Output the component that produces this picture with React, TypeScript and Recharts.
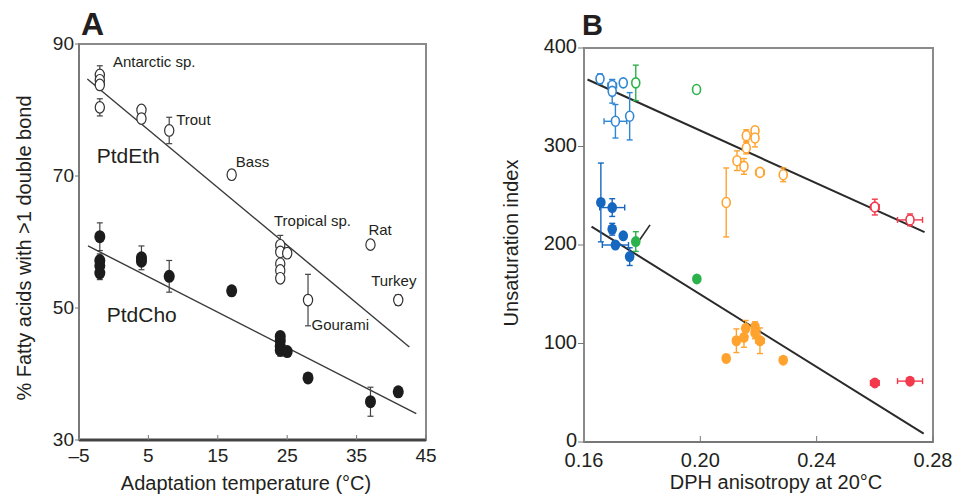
import React from "react";
import {
  ScatterChart,
  Scatter,
  XAxis,
  YAxis,
  ErrorBar,
  ReferenceLine,
  ReferenceArea,
} from "recharts";

// ---------- Panel A data: adaptation temperature (°C) vs % fatty acids ----------
const tempTicks = [-5, 5, 15, 25, 35, 45];
const pctTicks = [30, 50, 70, 90];

// PtdEth (open circles); ey = y error
const ethPoints = [
  { x: -2, y: 85.3, ey: 1.4 },
  { x: -2, y: 84.5 },
  { x: -2, y: 83.8 },
  { x: -2, y: 80.4, ey: 1.3 },
  { x: 4, y: 80.0 },
  { x: 4, y: 78.7 },
  { x: 8, y: 76.9, ey: 2.0 },
  { x: 17, y: 70.2, ey: 0.7 },
  { x: 24, y: 59.5, ey: 1.5 },
  { x: 24, y: 58.5 },
  { x: 25, y: 58.3 },
  { x: 24, y: 56.7 },
  { x: 24, y: 55.7 },
  { x: 24, y: 54.5 },
  { x: 28, y: 51.2, ey: 3.9 },
  { x: 37, y: 59.6, ey: 0.4 },
  { x: 41, y: 51.2, ey: 0.8 },
];

// PtdCho (filled circles)
const choPoints = [
  { x: -2, y: 60.8, ey: 2.1 },
  { x: -2, y: 57.2, ey: 1.0 },
  { x: -2, y: 56.4 },
  { x: -2, y: 55.3, ey: 1.0 },
  { x: 4, y: 57.6, ey: 1.8 },
  { x: 4, y: 57.1 },
  { x: 8, y: 54.8, ey: 2.4 },
  { x: 17, y: 52.6 },
  { x: 24, y: 45.7 },
  { x: 24, y: 45.0 },
  { x: 24, y: 44.2, ey: 1.5 },
  { x: 24, y: 43.6 },
  { x: 25, y: 43.4 },
  { x: 28, y: 39.4, ey: 0.5 },
  { x: 37, y: 35.8, ey: 2.2 },
  { x: 41, y: 37.3 },
];

const ethFit = [
  { x: -3.8, y: 84.7 },
  { x: 42.6, y: 44.1 },
];
const choFit = [
  { x: -3.7, y: 59.4 },
  { x: 43.6, y: 34.0 },
];

// label anchor = left end of text baseline
const speciesLabels = [
  { x: -0.1, y: 86.5, label: "Antarctic sp.", size: 15 },
  { x: 9.0, y: 77.7, label: "Trout", size: 15 },
  { x: 17.6, y: 71.4, label: "Bass", size: 15 },
  { x: 23.1, y: 62.4, label: "Tropical sp.", size: 15 },
  { x: 36.7, y: 61.0, label: "Rat", size: 15 },
  { x: 37.1, y: 53.3, label: "Turkey", size: 15 },
  { x: 28.5, y: 46.7, label: "Gourami", size: 15 },
  { x: -2.45, y: 71.9, label: "PtdEth", size: 21 },
  { x: -1.0, y: 47.9, label: "PtdCho", size: 21 },
];

// ---------- Panel B data: DPH anisotropy vs unsaturation index ----------
const anisoTicks = [0.16, 0.2, 0.24, 0.28];
const unsatTicks = [0, 100, 200, 300, 400];

const blueOpen = [
  { x: 0.1655, y: 368.7, ey: 5, ex: 0.001 },
  { x: 0.1697, y: 361.9, ey: 6, ex: 0.0015 },
  { x: 0.1697, y: 356, ey: 12 },
  { x: 0.1735, y: 364.6 },
  { x: 0.1708, y: 325.6, ey: 17, ex: 0.0039 },
  { x: 0.1757, y: 330.7, ey: 24 },
];
const greenOpen = [
  { x: 0.1778, y: 364.6, ey: 18 },
  { x: 0.1987, y: 357.8, ey: 2 },
];
const orangeOpen = [
  { x: 0.2089, y: 243.2, ey: 35 },
  { x: 0.2126, y: 285.6, ey: 10, ex: 0.001 },
  { x: 0.215, y: 279.8, ey: 8 },
  { x: 0.2158, y: 311, ey: 6 },
  { x: 0.2158, y: 298.5, ey: 6 },
  { x: 0.2188, y: 316, ey: 4 },
  { x: 0.2188, y: 308.6, ey: 9 },
  { x: 0.2205, y: 273.7, ey: 4, ex: 0.0015 },
  { x: 0.2285, y: 271.3, ey: 7 },
];
const redOpen = [
  { x: 0.26, y: 238.5, ey: 8, ex: 0.0015 },
  { x: 0.2721, y: 225.5, ey: 6, ex: 0.0043 },
];
const blueFilled = [
  { x: 0.1658, y: 243.2, ey: 40 },
  { x: 0.1697, y: 238, ey: 9, ex: 0.0043 },
  { x: 0.1697, y: 216, ey: 6 },
  { x: 0.1735, y: 209.3 },
  { x: 0.1708, y: 200, ex: 0.0045 },
  { x: 0.1757, y: 188.2, ey: 9 },
];
const greenFilled = [
  { x: 0.1778, y: 203.5, ey: 10 },
  { x: 0.1988, y: 165.5, ey: 2 },
];
const orangeFilled = [
  { x: 0.2089, y: 84.8, ey: 4 },
  { x: 0.2124, y: 102.8, ey: 12, ex: 0.001 },
  { x: 0.215, y: 106.2, ey: 10 },
  { x: 0.2156, y: 115.4, ey: 8 },
  { x: 0.2188, y: 117, ey: 5 },
  { x: 0.2188, y: 110.9, ey: 6 },
  { x: 0.2205, y: 102.8, ey: 13, ex: 0.0015 },
  { x: 0.2285, y: 83.1, ey: 2 },
];
const redFilled = [
  { x: 0.26, y: 60, ex: 0.0015 },
  { x: 0.2721, y: 61.8, ex: 0.0043 },
];

const upperFit = [
  { x: 0.1612, y: 368 },
  { x: 0.2771, y: 213 },
];
const lowerFit = [
  { x: 0.1626, y: 218.7 },
  { x: 0.2768, y: 8.5 },
];
const pointerLine = [
  { x: 0.1791, y: 205 },
  { x: 0.1827, y: 220.4 },
];

const FONT = "'Liberation Sans', Arial, Helvetica, sans-serif";
const INK = "#231f20";

const BLUE = "#2f86d3";
const BLUE_DARK = "#1667c0";
const GREEN = "#2bb24a";
const ORANGE = "#ffa22e";
const RED = "#f23a4c";

const withErr = (rows: any[]) =>
  rows.map((r) => ({ ...r, ey: r.ey ?? 0, ex: r.ex ?? 0 }));

const openBlack = (p: any) => (
  <ellipse cx={p.cx} cy={p.cy} rx={4.6} ry={5.8} fill="#fff" stroke="#333" strokeWidth={1.2} />
);
const filledBlack = (p: any) => (
  <ellipse cx={p.cx} cy={p.cy} rx={5.5} ry={6.5} fill="#1c1c1c" />
);
const openColor = (color: string) => (p: any) => (
  <ellipse cx={p.cx} cy={p.cy} rx={4} ry={5} fill="#fff" stroke={color} strokeWidth={1.6} />
);
const filledColor = (color: string) => (p: any) => (
  <ellipse cx={p.cx} cy={p.cy} rx={4.8} ry={5.5} fill={color} />
);
const labelShape = (p: any) => (
  <text x={p.cx} y={p.cy} fontSize={p.payload.size} fontFamily={FONT} fill={INK}>
    {p.payload.label}
  </text>
);

const fmtTemp = (v: number) => (v < 0 ? `\u2013${Math.abs(v)}` : `${v}`);
const fmtAniso = (v: number) => v.toFixed(2);
const fmtPlain = (v: number) => `${v}`;

// custom tick texts so the offsets can be tuned
const xTick = (fmt: (v: number) => string, size: number) => (p: any) => (
  <text
    x={p.x}
    y={p.y}
    dy="0.72em"
    textAnchor="middle"
    fontSize={size}
    fontFamily={FONT}
    fill={INK}
  >
    {fmt(p.payload.value)}
  </text>
);
const yTick = (size: number, shift: number) => (p: any) => (
  <text
    x={p.x}
    y={p.y + shift}
    dy="0.36em"
    textAnchor="end"
    fontSize={size}
    fontFamily={FONT}
    fill={INK}
  >
    {fmtPlain(p.payload.value)}
  </text>
);

function PanelA() {
  return (
    <ScatterChart width={480} height={496} margin={{ top: 44, right: 54, bottom: 26, left: 29 }}>
      <ReferenceArea x1={-5} x2={45} y1={30} y2={90} fill="none" stroke="#8a8a8a" strokeWidth={2} />
      <XAxis
        type="number"
        dataKey="x"
        domain={[-5, 45]}
        ticks={tempTicks}
        height={30}
        tickSize={-5}
        tickMargin={13}
        axisLine={{ stroke: "#444", strokeWidth: 3 }}
        tickLine={{ stroke: "#777" }}
        tick={xTick(fmtTemp, 19)}
      />
      <YAxis
        type="number"
        dataKey="y"
        domain={[30, 90]}
        ticks={pctTicks}
        width={50}
        tickSize={4}
        tickMargin={1}
        axisLine={{ stroke: "#7a7a7a", strokeWidth: 2 }}
        tickLine={{ stroke: "#777" }}
        tick={yTick(19, -1)}
      />
      <ReferenceLine segment={ethFit} stroke="#3a3a3a" strokeWidth={1.4} />
      <ReferenceLine segment={choFit} stroke="#3a3a3a" strokeWidth={1.4} />
      <Scatter data={withErr(ethPoints)} shape={openBlack} isAnimationActive={false}>
        <ErrorBar dataKey="ey" direction="y" width={3} stroke="#444" strokeWidth={1.2} />
      </Scatter>
      <Scatter data={withErr(choPoints)} shape={filledBlack} isAnimationActive={false}>
        <ErrorBar dataKey="ey" direction="y" width={3} stroke="#444" strokeWidth={1.2} />
      </Scatter>
      <Scatter data={speciesLabels} shape={labelShape} isAnimationActive={false} />
    </ScatterChart>
  );
}

function PanelB() {
  const groups = [
    { data: blueOpen, color: BLUE, open: true },
    { data: greenOpen, color: GREEN, open: true },
    { data: orangeOpen, color: ORANGE, open: true },
    { data: redOpen, color: RED, open: true },
    { data: blueFilled, color: BLUE_DARK, open: false },
    { data: greenFilled, color: GREEN, open: false },
    { data: orangeFilled, color: ORANGE, open: false },
    { data: redFilled, color: RED, open: false },
  ];
  return (
    <ScatterChart width={476} height={496} margin={{ top: 48, right: 23, bottom: 24, left: 54 }}>
      <ReferenceArea x1={0.16} x2={0.28} y1={0} y2={400} fill="none" stroke="#8a8a8a" strokeWidth={2} />
      <XAxis
        type="number"
        dataKey="x"
        domain={[0.16, 0.28]}
        ticks={anisoTicks}
        height={30}
        tickSize={-6}
        tickMargin={17}
        axisLine={{ stroke: "#777", strokeWidth: 2 }}
        tickLine={{ stroke: "#777" }}
        tick={xTick(fmtAniso, 20)}
      />
      <YAxis
        type="number"
        dataKey="y"
        domain={[0, 400]}
        ticks={unsatTicks}
        width={50}
        tickSize={6}
        tickMargin={1}
        axisLine={{ stroke: "#8a8a8a", strokeWidth: 2 }}
        tickLine={{ stroke: "#777" }}
        tick={yTick(20, -2)}
      />
      <ReferenceLine segment={upperFit} stroke="#2a2a2a" strokeWidth={2} />
      <ReferenceLine segment={lowerFit} stroke="#2a2a2a" strokeWidth={2} />
      <ReferenceLine segment={pointerLine} stroke="#2a2a2a" strokeWidth={1.6} />
      {groups.map((g, i) => (
        <Scatter
          key={i}
          data={withErr(g.data)}
          shape={g.open ? openColor(g.color) : filledColor(g.color)}
          isAnimationActive={false}
        >
          <ErrorBar dataKey="ey" direction="y" width={3} stroke={g.color} strokeWidth={1.4} />
          <ErrorBar dataKey="ex" direction="x" width={3} stroke={g.color} strokeWidth={1.4} />
        </Scatter>
      ))}
    </ScatterChart>
  );
}

export default function App() {
  const title = { fontFamily: FONT, fill: INK, fontSize: 20 } as const;
  return (
    <div style={{ position: "absolute", left: 0, top: 0, width: 956, height: 496, background: "#fff" }}>
      <div style={{ position: "absolute", left: 0, top: 0 }}>
        <PanelA />
      </div>
      <div style={{ position: "absolute", left: 480, top: 0 }}>
        <PanelB />
      </div>
      <svg
        width={956}
        height={496}
        style={{ position: "absolute", left: 0, top: 0, pointerEvents: "none" }}
      >
        <text x={81} y={35} fontFamily={FONT} fontWeight="bold" fontSize={32} fill={INK}>
          A
        </text>
        <text x={582} y={35} fontFamily={FONT} fontWeight="bold" fontSize={29} fill={INK}>
          B
        </text>
        <text x={246} y={490} textAnchor="middle" {...title}>
          Adaptation temperature (°C)
        </text>
        <text x={0} y={0} textAnchor="middle" transform="translate(31 248) rotate(-90)" {...title}>
          % Fatty acids with &gt;1 double bond
        </text>
        <text x={776} y={489} textAnchor="middle" {...title}>
          DPH anisotropy at 20°C
        </text>
        <text x={0} y={0} textAnchor="middle" transform="translate(518 243) rotate(-90)" {...title}>
          Unsaturation index
        </text>
      </svg>
    </div>
  );
}
